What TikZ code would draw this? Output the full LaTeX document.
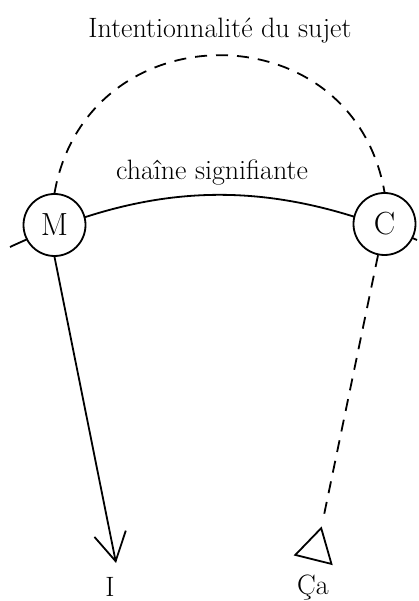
\documentclass[tikz,border=0pt]{standalone}
\usepackage{fontspec}
\usepackage{tikz}
\usetikzlibrary{positioning, arrows.meta, shapes.geometric, calc}

\begin{document}
\begin{tikzpicture}[x=1pt, y=1pt, line width=1.8pt,
    every node/.style={font=\fontsize{28}{32}\selectfont},
    letter/.style={circle, draw, fill=white, minimum size=62pt, inner sep=0pt,
                   font=\fontsize{32}{36}\selectfont},
    dashline/.style={dash pattern=on 12pt off 9pt}]
    \useasboundingbox (0,0) rectangle (419,601);

    % Chain
    \coordinate (chainL) at (10,354);
    \coordinate (chainR) at (417,361);
    \draw (chainL) to[bend left=24] (chainR);

    % Letters on the chain
    \node[letter] (M) at (54.5,376) {M};
    \node[letter] (C) at (384.5,377) {C};

    % Labels
    \node[anchor=base] (title) at (220,563) {Intentionnalité du sujet};
    \node[anchor=base] (chain) at (212,421) {chaîne signifiante};
    \node[anchor=base] (I) at (110,5) {I};
    \node[anchor=base] (Ca) at (313,6) {Ça};

    % Ends
    \coordinate (Itip) at (116,38);
    \node[draw, regular polygon, regular polygon sides=3, minimum size=43pt,
          inner sep=0pt, rotate=-14] (tri) at (316,52) {};

    % Connectors
    \draw[dashline] (M.north) to[out=80, in=100, looseness=1.44] (C.north);
    \draw[-{Straight Barb[length=28pt, width=32pt]}] (M.south) -- (Itip);
    \draw[dashline, shorten >=6pt] (C) -- (tri.corner 1);
\end{tikzpicture}
\end{document}
